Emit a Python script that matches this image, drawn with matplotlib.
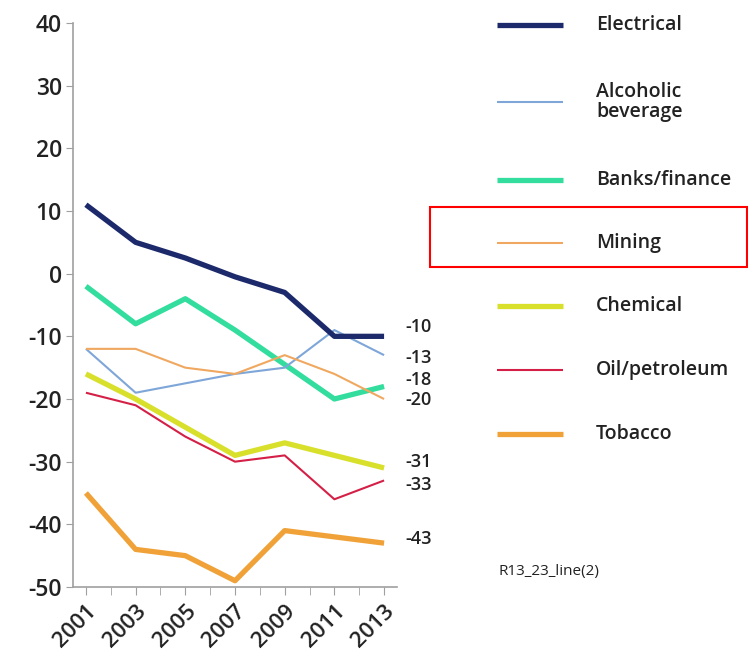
import matplotlib
matplotlib.use("Agg")
import matplotlib.pyplot as plt
from matplotlib.lines import Line2D
from matplotlib.patches import Rectangle

plt.rcParams['font.family'] = ['Open Sans', 'DejaVu Sans']

years = [2001, 2003, 2005, 2007, 2009, 2011, 2013]
series_names = ["Electrical", "Alcoholic\nbeverage", "Banks/finance", "Mining",
                "Chemical", "Oil/petroleum", "Tobacco"]
electrical = [11, 5, 2.5, -0.5, -3, -10, -10]
alcoholic = [-12, -19, -17.5, -16, -15, -9, -13]
banks = [-2, -8, -4, -9, -14.5, -20, -18]
mining = [-12, -12, -15, -16, -13, -16, -20]
chemical = [-16, -20, -24.5, -29, -27, -29, -31]
oil = [-19, -21, -26, -30, -29, -36, -33]
tobacco = [-35, -44, -45, -49, -41, -42, -43]
end_labels = ["-10", "-13", "-18", "-20", "-31", "-33", "-43"]
yticks = [40, 30, 20, 10, 0, -10, -20, -30, -40, -50]
note = "R13_23_line(2)"

all_series = [electrical, alcoholic, banks, mining, chemical, oil, tobacco]
colors = ["#1c2a6b", "#7ea6d8", "#33dd9e", "#f0a860", "#d8e02c", "#d42046", "#f0a238"]
widths = [3.8, 1.5, 3.8, 1.5, 3.8, 1.5, 3.8]
zorders = [5, 4, 3, 4, 2, 3, 2]

W, H = 748, 659
fig = plt.figure(figsize=(W / 100, H / 100), dpi=100)
ax = fig.add_axes([73 / W, 1 - 587 / H, (397 - 73) / W, (587 - 23) / H])

for vals, c, lw, z in zip(all_series, colors, widths, zorders):
    ax.plot(years, vals, color=c, lw=lw, solid_capstyle='butt', zorder=z)

ax.set_xlim(2000.48, 2013.52)
ax.set_ylim(-50, 40)
ax.set_yticks(yticks)
ax.set_yticklabels([str(v) for v in yticks], fontsize=16.5, fontweight='semibold',
                   color='#222222')
ax.set_xticks(range(2001, 2014), minor=True)
ax.set_xticks(years)
ax.set_xticklabels([str(y) for y in years], fontsize=16, fontweight='semibold',
                   color='#222222', rotation=45, ha='right', rotation_mode='anchor')
for s in ['top', 'right']:
    ax.spines[s].set_visible(False)
for s in ['left', 'bottom']:
    ax.spines[s].set_color('#a0a0a0')
    ax.spines[s].set_linewidth(1.2)
ax.tick_params(axis='y', length=5, color='#a0a0a0', pad=3)
ax.tick_params(axis='x', which='both', length=6, color='#a0a0a0', pad=4)

# end labels (positions in pixel rows)
label_rows = [327, 358, 380, 400, 462, 485, 539]
for txt, r in zip(end_labels, label_rows):
    fig.text(405 / W, 1 - r / H, txt, fontsize=13, fontweight='semibold',
             color='#222222', va='center', ha='left')

# legend
legend_rows = [25, 102, 180, 243, 306, 370, 434]
for name, c, lw, r in zip(series_names, colors, widths, legend_rows):
    fig.add_artist(Line2D([497 / W, 563 / W], [1 - r / H, 1 - r / H], color=c, lw=lw,
                          solid_capstyle='butt'))
    fig.text(596 / W, 1 - r / H, name, fontsize=14, fontweight='semibold',
             color='#222222', va='center', ha='left', linespacing=1.0)

fig.add_artist(Rectangle((430 / W, 1 - 267 / H), (747 - 430) / W, (267 - 207) / H,
                         fill=False, edgecolor='#ff0000', lw=1.5))

fig.text(498 / W, 1 - 572 / H, note, fontsize=11, color='#222222',
         va='center', ha='left')

fig.savefig("out.png", dpi=100)
